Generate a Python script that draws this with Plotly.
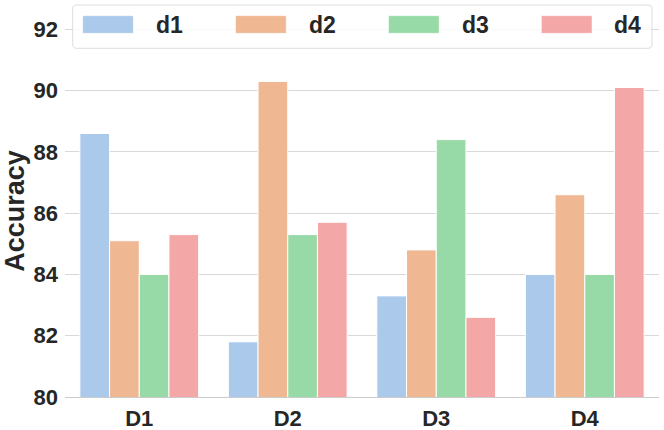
import plotly.graph_objects as go

categories = ["D1", "D2", "D3", "D4"]
series_names = ["d1", "d2", "d3", "d4"]
d1 = [88.6, 81.8, 83.3, 84.0]
d2 = [85.1, 90.3, 84.8, 86.6]
d3 = [84.0, 85.3, 88.4, 84.0]
d4 = [85.3, 85.7, 82.6, 90.1]
y_ticks = [80, 82, 84, 86, 88, 90, 92]
colors = ["#abc9ea", "#efb792", "#98daa7", "#f3a8a7"]

W, H = 664, 430
ML, MR, MT, MB = 65, 5, 25, 33
PW, PH = W - ML - MR, H - MT - MB
FONT = "Liberation Sans, Arial, sans-serif"
TXT = "#262626"

def px(x):
    return (x - ML) / PW

def py(y):
    return (H - MB - y) / PH

fig = go.Figure()
for name, vals, c in zip(series_names, [d1, d2, d3, d4], colors):
    fig.add_trace(go.Bar(
        x=categories, y=vals, name=name,
        marker=dict(color=c, line=dict(color="white", width=1)),
        showlegend=False,
    ))

# legend box (rounded)
x0, x1, y0, y1, r = 72.7, 652, 5, 48.3, 4
def P(x, y):
    return f"{px(x):.5f},{py(y):.5f}"
path = (f"M {P(x0+r, y0)} L {P(x1-r, y0)} Q {P(x1, y0)} {P(x1, y0+r)} "
        f"L {P(x1, y1-r)} Q {P(x1, y1)} {P(x1-r, y1)} L {P(x0+r, y1)} "
        f"Q {P(x0, y1)} {P(x0, y1-r)} L {P(x0, y0+r)} Q {P(x0, y0)} {P(x0+r, y0)} Z")
shapes = [dict(type="path", xref="paper", yref="paper", path=path,
               fillcolor="rgba(255,255,255,0.8)", line=dict(color="#dddddd", width=1),
               layer="above")]
annotations = []
sw_x = 82.7
step = 152.9
for i, (name, c) in enumerate(zip(series_names, colors)):
    sx = sw_x + i * step
    shapes.append(dict(type="rect", xref="paper", yref="paper",
                       x0=px(sx), x1=px(sx + 50.6), y0=py(33.3), y1=py(15.7),
                       fillcolor=c, line=dict(color="white", width=0.5), layer="above"))
    annotations.append(dict(xref="paper", yref="paper", x=px(sx + 71), y=py(25),
                            text=f"<b>{name}</b>", showarrow=False, xanchor="left",
                            yanchor="middle", font=dict(family=FONT, size=23, color=TXT)))

fig.update_layout(
    width=W, height=H,
    margin=dict(l=ML, r=MR, t=MT, b=MB, autoexpand=False),
    paper_bgcolor="white", plot_bgcolor="white",
    barmode="group", bargap=0.2, bargroupgap=0,
    shapes=shapes, annotations=annotations,
    font=dict(family=FONT, color=TXT),
)
fig.update_xaxes(
    range=[-0.5, 3.5], showgrid=False, showline=True, linecolor="#cccccc", linewidth=1,
    ticks="", tickfont=dict(family=FONT, size=22, color=TXT),
    tickvals=categories, ticktext=[f"<b>{c}</b>" for c in categories],
    ticklabelstandoff=2, automargin=False,
)
fig.update_yaxes(
    range=[80, 92.14], tickvals=y_ticks, ticktext=[f"<b>{t}</b>" for t in y_ticks],
    showgrid=True, gridcolor="#d9d9d9", gridwidth=1, zeroline=False, showline=False,
    ticks="", tickfont=dict(family=FONT, size=22, color=TXT), ticklabelstandoff=6,
    title=dict(text="<b>Accuracy</b>", font=dict(family=FONT, size=27, color=TXT), standoff=2),
    automargin=False,
)
fig.write_html("out.html", post_script="document.body.style.margin='0';",
               config={"displayModeBar": False})
